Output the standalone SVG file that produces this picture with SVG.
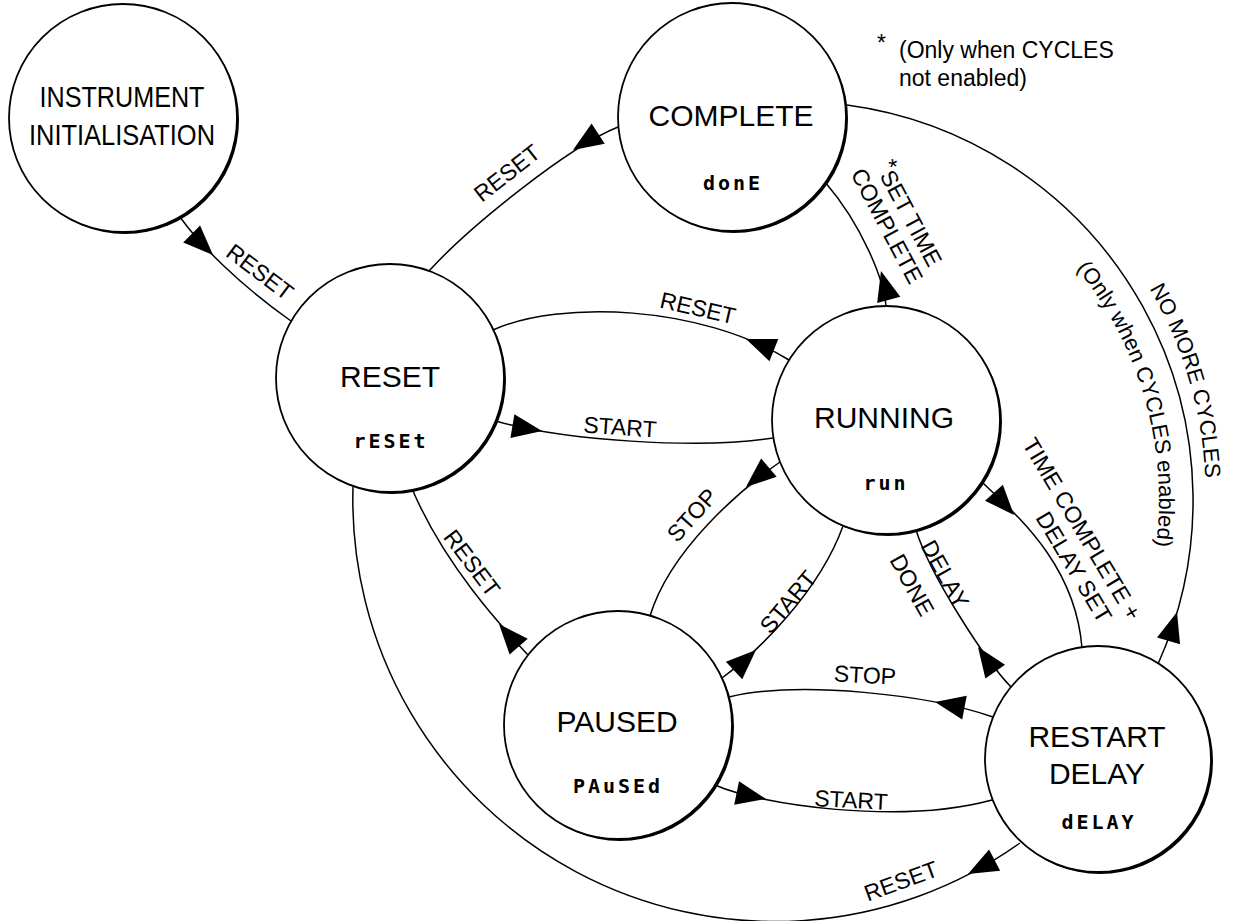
<svg xmlns="http://www.w3.org/2000/svg" width="1235" height="921" viewBox="0 0 1235 921">
<style>
.sh{fill:#000}
.nc{fill:#fff;stroke:#000;stroke-width:1.8}
.nl{font-family:"Liberation Sans",Arial,sans-serif;font-size:30px;text-anchor:middle;fill:#000}
.sg{font-family:"DejaVu Sans Mono",monospace;font-size:20px;font-weight:bold;letter-spacing:3px;text-anchor:middle;fill:#000}
.e{fill:none;stroke:#000;stroke-width:1.5}
.el{font-family:"Liberation Sans",Arial,sans-serif;font-size:23px;text-anchor:middle;fill:#000}
.cl{font-family:"Liberation Sans",Arial,sans-serif;font-size:22px;text-anchor:middle;fill:#000}
.fn{font-family:"Liberation Sans",Arial,sans-serif;font-size:23px;fill:#000}
</style>
<defs>
<path id="ah" d="M0,0 L-30,-12 L-30,12 Z" fill="#000"/>
<path id="tp1" d="M1075.6,195.9 A412,412 0 0 1 1193.6,596" />
<path id="tp2" d="M976,183 A366,366 0 0 1 1116.2,671.8"/>
</defs>
<rect width="1235" height="921" fill="#fff"/>
<g id="connectors">
<path class="e" d="M180,217 C200,245 240,285 291,321"/>
<path class="e" d="M618,127 C568,147 468,228 429,271"/>
<path class="e" d="M789,360 C700,305 560,300 493,330"/>
<path class="e" d="M496,421 C560,440 700,450 773,438"/>
<path class="e" d="M886,306 C884,280 862,225 825,182"/>
<path class="e" d="M780,462 C740,490 670,550 650,616"/>
<path class="e" d="M722,678 C760,650 820,590 843,526"/>
<path class="e" d="M1011,687 C985,660 930,575 916,530"/>
<path class="e" d="M982,482 C1010,510 1075,560 1082,648"/>
<path class="e" d="M993,717 C930,695 800,680 729,697"/>
<path class="e" d="M715,785 C760,805 900,825 992,800"/>
<path class="e" d="M528,655 C500,625 445,565 413,491"/>
<path class="e" d="M1020,843 A422,422 0 0 1 353,487"/>
<path class="e" d="M1158,664 A399,399 0 0 0 847,105"/>
<use href="#ah" transform="translate(213,255) rotate(44.6)"/>
<use href="#ah" transform="translate(573,150) rotate(147)"/>
<use href="#ah" transform="translate(746,339) rotate(201.7)"/>
<use href="#ah" transform="translate(542,431) rotate(9.5)"/>
<use href="#ah" transform="translate(881,271) rotate(-105)"/>
<use href="#ah" transform="translate(746,487) rotate(139.7)"/>
<use href="#ah" transform="translate(756,650) rotate(-43)"/>
<use href="#ah" transform="translate(978,647) rotate(-125)"/>
<use href="#ah" transform="translate(1014,515) rotate(48)"/>
<use href="#ah" transform="translate(935,702) rotate(190.8)"/>
<use href="#ah" transform="translate(766,799) rotate(11.6)"/>
<use href="#ah" transform="translate(499,624) rotate(-131)"/>
<use href="#ah" transform="translate(968,874) rotate(152.5)"/>
<use href="#ah" transform="translate(1177,612) rotate(-73.6)"/>
</g>
<g id="edge-labels">
<text class="el" transform="translate(260,272) rotate(37)" y="8">RESET</text>
<text class="el" transform="translate(507,173) rotate(-38)" y="8">RESET</text>
<text class="el" transform="translate(698,308) rotate(13)" y="8">RESET</text>
<text class="el" transform="translate(620,427) rotate(4)" y="8">START</text>
<g transform="translate(898,220) rotate(62)">
<text class="el" y="-4.5"><tspan dy="-6">*</tspan><tspan dy="6">SET TIME</tspan></text>
<text class="el" y="20.5">COMPLETE</text>
</g>
<text class="el" transform="translate(692,515) rotate(-48)" y="8">STOP</text>
<text class="el" transform="translate(788,602) rotate(-50)" y="8">START</text>
<text class="el" transform="translate(945,574) rotate(61)" y="8">DELAY</text>
<text class="el" transform="translate(912,585) rotate(61)" y="8">DONE</text>
<text class="el" transform="translate(1082,529) rotate(59)" y="8">TIME COMPLETE +</text>
<text class="el" transform="translate(1074,567) rotate(59)" y="8">DELAY SET</text>
<text class="el" transform="translate(865,675) rotate(3)" y="8">STOP</text>
<text class="el" transform="translate(851,800) rotate(3)" y="8">START</text>
<text class="el" transform="translate(472,563) rotate(53)" y="8">RESET</text>
<text class="el" transform="translate(901,881) rotate(-20)" y="8">RESET</text>
<text class="cl"><textPath href="#tp1" startOffset="50%">NO MORE CYCLES</textPath></text>
<text class="cl"><textPath href="#tp2" startOffset="50%">(Only when CYCLES enabled)</textPath></text>
</g>
<g id="footnote">
<text class="fn" x="877" y="51" font-size="30">*</text>
<text class="fn" x="899" y="58">(Only when CYCLES</text>
<text class="fn" x="899" y="86">not enabled)</text>
</g>
<g id="node-init">
<circle class="sh" cx="125" cy="120" r="114"/>
<circle class="nc" cx="123" cy="118" r="114"/>
<text class="nl" x="122" y="107" textLength="165" lengthAdjust="spacingAndGlyphs">INSTRUMENT</text>
<text class="nl" x="122" y="145" textLength="186" lengthAdjust="spacingAndGlyphs">INITIALISATION</text>
</g>
<g id="node-complete">
<circle class="sh" cx="734" cy="119" r="114"/>
<circle class="nc" cx="732" cy="117" r="114"/>
<text class="nl" x="731" y="126">COMPLETE</text>
<text class="sg" x="733" y="190">donE</text>
</g>
<g id="node-reset">
<circle class="sh" cx="392" cy="380" r="114"/>
<circle class="nc" cx="390" cy="378" r="114"/>
<text class="nl" x="390" y="387">RESET</text>
<text class="sg" x="391" y="448">rESEt</text>
</g>
<g id="node-running">
<circle class="sh" cx="888" cy="422" r="114"/>
<circle class="nc" cx="886" cy="420" r="114"/>
<text class="nl" x="884" y="428">RUNNING</text>
<text class="sg" x="886" y="490">run</text>
</g>
<g id="node-paused">
<circle class="sh" cx="620" cy="727" r="114"/>
<circle class="nc" cx="618" cy="725" r="114"/>
<text class="nl" x="617" y="732">PAUSED</text>
<text class="sg" x="618" y="793">PAuSEd</text>
</g>
<g id="node-restart">
<circle class="sh" cx="1100" cy="761" r="113"/>
<circle class="nc" cx="1098" cy="759" r="113"/>
<text class="nl" x="1097" y="747">RESTART</text>
<text class="nl" x="1097" y="784">DELAY</text>
<text class="sg" x="1099" y="829">dELAY</text>
</g>
</svg>
